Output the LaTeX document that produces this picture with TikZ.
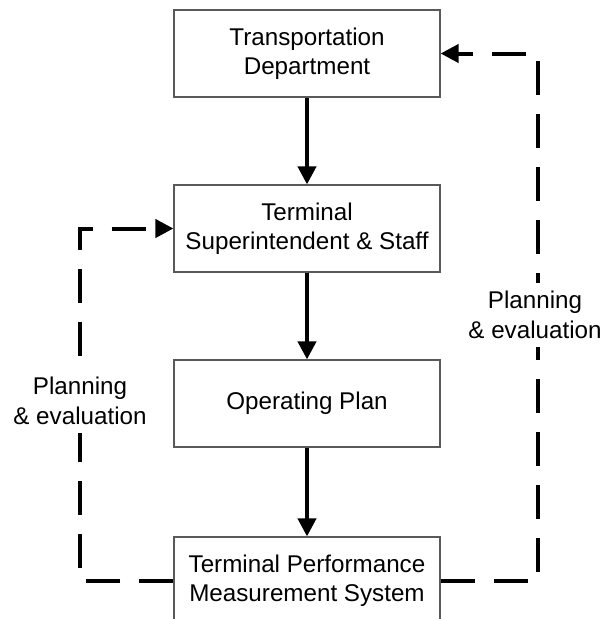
\documentclass[tikz,border=0pt]{standalone}
\usepackage{fontspec}
\setmainfont{Liberation Sans}
\usetikzlibrary{arrows.meta}
\begin{document}
\begin{tikzpicture}[x=1pt,y=-1pt,
  stage/.style={draw=black!65, line width=1.2pt, minimum width=266pt,
    minimum height=87pt, align=center, inner sep=0pt,
    font=\fontsize{24.2}{29.5}\selectfont},
  flow/.style={line width=4pt, -{Triangle[length=18pt,width=18pt]}},
  feedback/.style={line width=4pt, dash pattern=on 34pt off 19pt,
    line join=miter, -{Triangle[length=18pt,width=18pt]}},
  loopnote/.style={fill=white, align=center, inner xsep=1pt, inner ysep=8pt,
    font=\fontsize{24.2}{29.5}\selectfont}]
\path[use as bounding box, clip] (0,0) rectangle (604,619);

% the four stages of the chain
\node[stage] (dept)  at (307,53.5)  {Transportation\\Department};
\node[stage] (staff) at (307,228.5) {Terminal\\Superintendent \& Staff};
\node[stage] (plan)  at (307,403.5) {Operating Plan};
\node[stage] (tpms)  at (307,580.5) {Terminal Performance\\Measurement System};

% downward flow
\draw[flow] (dept)  -- (staff);
\draw[flow] (staff) -- (plan);
\draw[flow] (plan)  -- (tpms);

% feedback loops
\coordinate (rb) at (538,580.5);
\coordinate (rt) at (538,53.5);
\coordinate (lb) at (80,580.5);
\coordinate (lt) at (80,228.5);
\draw[feedback] (tpms.east) -- (rb) -- (rt) -- (dept.east);
\draw[feedback] (tpms.west) -- (lb) -- (lt) -- (staff.west);

\node[loopnote] (noteR) at (535,315) {Planning\\\& evaluation};
\node[loopnote] (noteL) at (80,401) {Planning\\\& evaluation};
\end{tikzpicture}
\end{document}
